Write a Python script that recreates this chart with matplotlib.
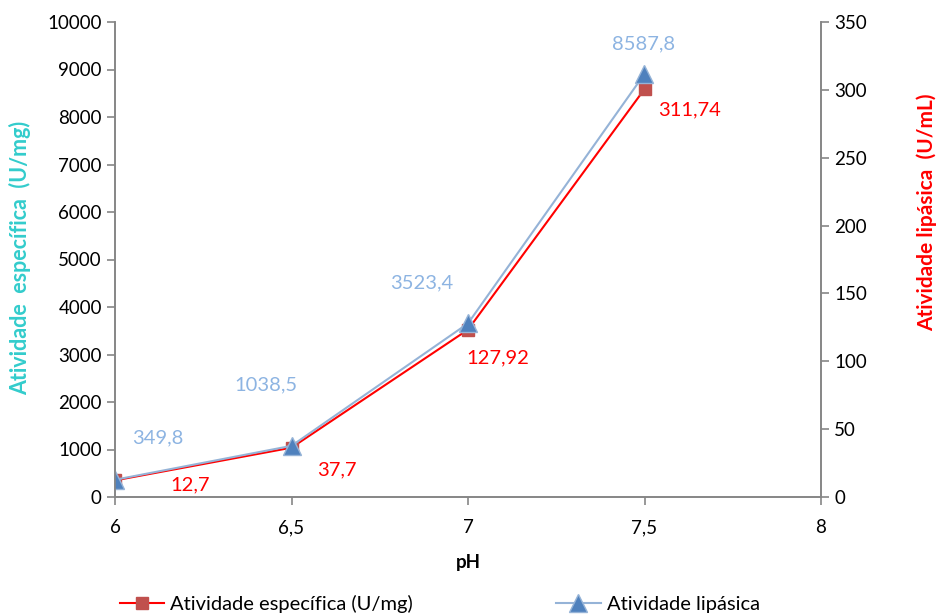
import matplotlib.pyplot as plt

plt.rcParams['font.family'] = ['Lato', 'DejaVu Sans']

ph = [6, 6.5, 7, 7.5]
especifica = [349.8, 1038.5, 3523.4, 8587.8]
lipasica = [12.7, 37.7, 127.92, 311.74]
esp_labels = ['349,8', '1038,5', '3523,4', '8587,8']
lip_labels = ['12,7', '37,7', '127,92', '311,74']

x_ticks = [6, 6.5, 7, 7.5, 8]
x_ticklabels = ['6', '6,5', '7', '7,5', '8']

# label offsets in pixels
esp_off = [(43, 43), (-26, 63), (-46, 47), (-1, 45)]
lip_off = [(75, -5), (45, -24), (30, -34), (45, -36)]

grey = '#868686'
fig = plt.figure(figsize=(9.37, 6.16), dpi=100)
ax = fig.add_axes([115 / 937, 1 - 497 / 616, (821 - 115) / 937, (497 - 22) / 616])
ax2 = ax.twinx()

l1, = ax.plot(ph, especifica, color='#FF0000', lw=1.5, marker='s', ms=9,
              mfc='#C0504D', mec='#C0504D', label='Atividade específica (U/mg)')
l2, = ax2.plot(ph, lipasica, color='#95B3D7', lw=1.5, marker='^', ms=13,
               mfc='#4F81BD', mec='#95B3D7', mew=1, label='Atividade lipásica')

for xv, yv, txt, off in zip(ph, especifica, esp_labels, esp_off):
    ax.annotate(txt, (xv, yv), xytext=off, textcoords='offset pixels',
                ha='center', va='center', color='#8DB4E2', fontsize=14.5)
for xv, yv, txt, off in zip(ph, lipasica, lip_labels, lip_off):
    ax2.annotate(txt, (xv, yv), xytext=off, textcoords='offset pixels',
                 ha='center', va='center', color='#FF0000', fontsize=14.5)

ax.set_xlim(6, 8)
ax.set_ylim(0, 10000)
ax2.set_ylim(0, 350)
ax.set_xticks(x_ticks)
ax.set_xticklabels(x_ticklabels)
ax.set_yticks(range(0, 10001, 1000))
ax2.set_yticks(range(0, 351, 50))

for a in (ax, ax2):
    a.spines['top'].set_visible(False)
    for s in ('left', 'right', 'bottom'):
        a.spines[s].set_color(grey)
        a.spines[s].set_linewidth(1.2)
    a.tick_params(colors=grey, labelcolor='black', labelsize=13.5, length=6, width=1.2)
ax.tick_params(axis='x', pad=10)

ax.set_xlabel('pH', fontsize=13.5, fontweight='bold', labelpad=13)
ax.set_ylabel('Atividade  específica  (U/mg)', fontsize=15.5, fontweight='bold',
              color='#33CCCC', va='center')
ax.yaxis.set_label_coords(-0.135, 0.504)
ax2.set_ylabel('Atividade lipásica  (U/mL)', fontsize=15, fontweight='bold',
               color='#FF0000', va='center')
ax2.yaxis.set_label_coords(1.15, 0.6)

fig.legend([l1, l2], [l1.get_label(), l2.get_label()], loc='center left',
           bbox_to_anchor=(102 / 937, 1 - 604 / 616), ncol=2, frameon=False,
           fontsize=14.5, columnspacing=7.1, handlelength=2.2, handletextpad=0.3)

fig.savefig('out.png', dpi=100)
